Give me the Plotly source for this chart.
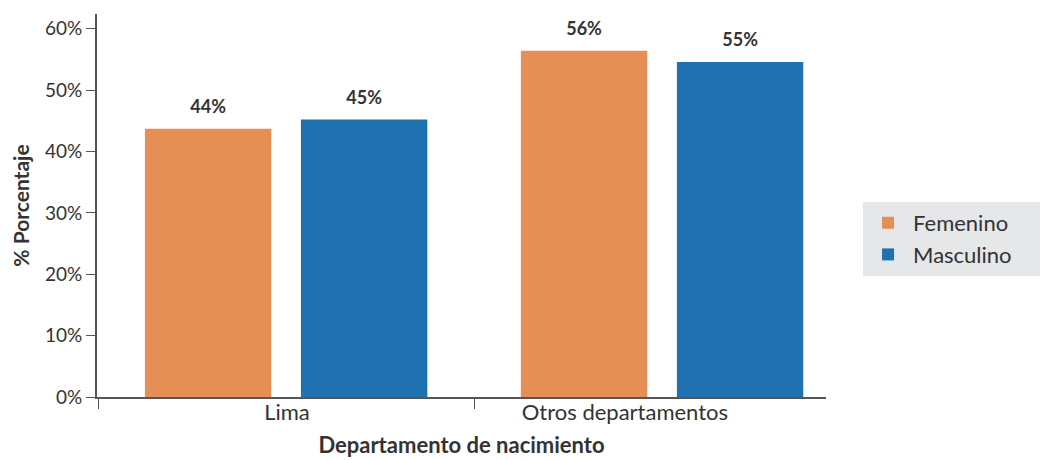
import plotly.graph_objects as go

categorias = ['Lima', 'Otros departamentos']
femenino = [0.437, 0.564]
masculino = [0.452, 0.546]
etiquetas_f = ['44%', '56%']
etiquetas_m = ['45%', '55%']

fuente = 'Lato'
gris = '#333333'
naranja = '#E58F57'
azul = '#1F71B0'
linea = '#555555'

fig = go.Figure()
for nombre, valores, etiquetas, color in [
    ('Femenino', femenino, etiquetas_f, naranja),
    ('Masculino', masculino, etiquetas_m, azul),
]:
    fig.add_trace(go.Bar(
        name=nombre, x=categorias, y=valores, offsetgroup=nombre,
        marker=dict(color=color, line=dict(width=0)),
        showlegend=False,
    ))
    # etiquetas sobre las barras (marcador invisible para dar separación)
    fig.add_trace(go.Scatter(
        x=categorias, y=valores, offsetgroup=nombre,
        mode='markers+text', text=etiquetas, textposition='top center',
        marker=dict(size=16, opacity=0),
        textfont=dict(family=fuente, size=18, color=gris, weight='bold'),
        cliponaxis=False, showlegend=False, hoverinfo='skip',
    ))
    # entrada de leyenda con cuadro grande
    fig.add_trace(go.Scatter(
        name=nombre + '\u00a0\u00a0\u00a0\u00a0', x=[None], y=[None], mode='markers',
        marker=dict(symbol='square', size=22, color=color),
        showlegend=True,
    ))

# eje auxiliar solo para los rótulos de categoría
fig.add_trace(go.Scatter(
    x=categorias, y=[None, None], xaxis='x2', mode='markers',
    showlegend=False, hoverinfo='skip',
))

fig.update_layout(
    width=1051, height=460,
    margin=dict(l=89, r=233, t=6, b=71, autoexpand=False),
    paper_bgcolor='white', plot_bgcolor='white',
    font=dict(family=fuente, size=18, color=gris),
    barmode='group', bargap=0.17, bargroupgap=0.19,
    scattermode='group', scattergap=0.17,
    legend=dict(
        x=1.0508, xanchor='left', y=0.4125, yanchor='middle',
        bgcolor='#E6E7E9', font=dict(size=22, color=gris),
        itemsizing='constant', itemwidth=40, tracegroupgap=0,
    ),
    xaxis=dict(
        automargin=False, range=[-0.503, 1.436],
        showline=True, linecolor=linea, linewidth=2,
        ticks='outside', tickson='boundaries', ticklen=10, tickcolor=linea,
        showticklabels=False,
        title=dict(text='<b>Departamento de nacimiento</b>', font=dict(size=22), standoff=40),
    ),
    xaxis2=dict(
        automargin=False, overlaying='x', anchor='y', side='bottom',
        type='category', categoryarray=categorias, range=[-0.562, 1.595],
        showline=False, ticks='', showgrid=False,
        tickfont=dict(size=22),
    ),
    yaxis=dict(
        automargin=False,
        range=[0, 0.624], dtick=0.1, tickformat='.0%',
        showline=True, linecolor=linea, linewidth=2,
        ticks='outside', ticklen=9, tickcolor=linea,
        showgrid=False, zeroline=False,
        tickfont=dict(size=19),
        title=dict(text='<b>% Porcentaje</b>', font=dict(size=21), standoff=14),
    ),
)

fig.write_html('out.html')
